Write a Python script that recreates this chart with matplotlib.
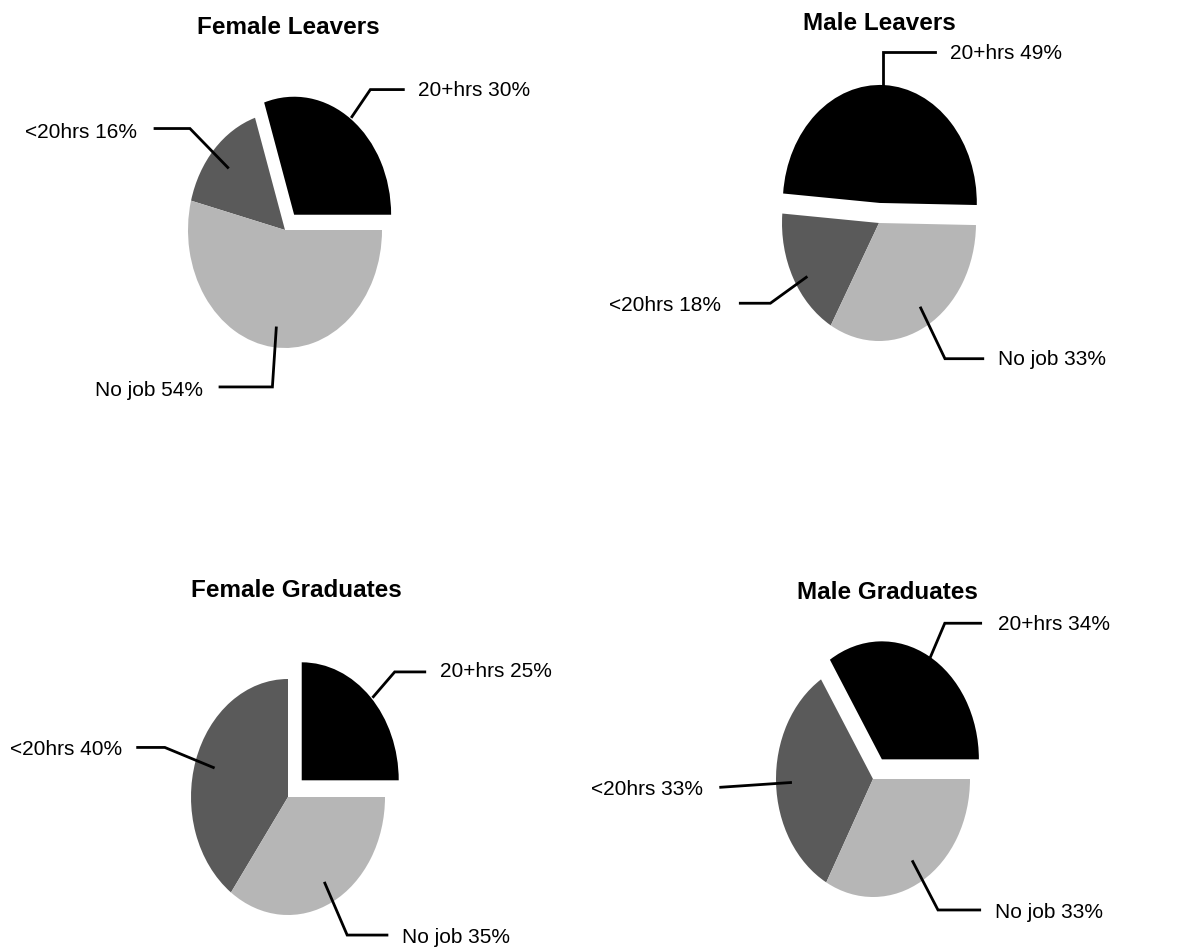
import matplotlib
matplotlib.use("Agg")
import matplotlib.pyplot as plt

# ---- data ----
categories = ["20+hrs", "<20hrs", "No job"]
titles = ["Female Leavers", "Male Leavers", "Female Graduates", "Male Graduates"]
female_leavers = [30, 16, 54]
male_leavers = [49, 18, 33]
female_graduates = [25, 40, 35]
male_graduates = [34, 33, 33]
series = [female_leavers, male_leavers, female_graduates, male_graduates]

# ---- style / layout ----
colors = ["#000000", "#5a5a5a", "#b6b6b6"]
W, H = 1186, 951
RX, RY = 97, 118  # pie radii in pixels (the scan is stretched vertically)
centers = [(285, 230), (879, 223), (288, 797), (873, 779)]
startangles = [0, -1, 0, 0]
explodes = [0.16, 0.17, 0.2, 0.19]
title_pos = [(0.03, 1.72), (0.0, 1.69), (0.09, 1.75), (0.15, 1.58)]

# leader lines (pie units) and text anchor (x, y, ha) per label
leaders = [
    [([0.69, 0.88, 1.22], [0.96, 1.19, 1.19], (1.37, 1.18, "left")),
     ([-1.34, -0.98, -0.59], [0.86, 0.86, 0.53], (-1.53, 0.83, "right")),
     ([-0.67, -0.13, -0.09], [-1.33, -1.33, -0.83], (-0.85, -1.36, "right"))],
    [([0.04, 0.04, 0.58], [1.14, 1.45, 1.45], (0.73, 1.44, "left")),
     ([-1.43, -1.12, -0.75], [-0.68, -0.68, -0.46], (-1.63, -0.70, "right")),
     ([0.43, 0.68, 1.07], [-0.72, -1.15, -1.15], (1.23, -1.16, "left"))],
    [([0.88, 1.10, 1.41], [0.85, 1.06, 1.06], (1.57, 1.06, "left")),
     ([-1.55, -1.27, -0.77], [0.42, 0.42, 0.25], (-1.71, 0.40, "right")),
     ([0.38, 0.61, 1.02], [-0.73, -1.17, -1.17], (1.18, -1.19, "left"))],
    [([0.59, 0.74, 1.11], [1.03, 1.32, 1.32], (1.29, 1.31, "left")),
     ([-1.57, -0.85], [-0.07, -0.03], (-1.75, -0.09, "right")),
     ([0.41, 0.67, 1.10], [-0.70, -1.11, -1.11], (1.26, -1.13, "left"))],
]

plt.rcParams["font.family"] = ["Liberation Sans", "DejaVu Sans"]
fig = plt.figure(figsize=(W / 100, H / 100), dpi=100)

for vals, title, (cx, cy), sa, ex, tp, lds in zip(series, titles, centers, startangles,
                                                     explodes, title_pos, leaders):
    w_px, h_px = 2.5 * RX, 2.5 * RY
    ax = fig.add_axes([(cx - w_px / 2) / W, 1 - (cy + h_px / 2) / H, w_px / W, h_px / H])
    ax.pie(vals, colors=colors, startangle=sa, counterclock=True,
           explode=[ex, 0, 0], wedgeprops=dict(linewidth=0))
    ax.set_aspect("auto")
    ax.set_xlim(-1.25, 1.25)
    ax.set_ylim(-1.25, 1.25)
    ax.axis("off")
    ax.text(tp[0], tp[1], title, ha="center", va="center", fontsize=17.5,
            fontweight="bold", clip_on=False)
    for cat, v, (xs, ys, (tx, ty, ha)) in zip(categories, vals, lds):
        ax.plot(xs, ys, color="black", lw=2.0, clip_on=False, solid_joinstyle="miter")
        ax.text(tx, ty, f"{cat} {v}%", ha=ha, va="center", fontsize=15, clip_on=False)

fig.savefig("out.png", dpi=100, facecolor="white")
